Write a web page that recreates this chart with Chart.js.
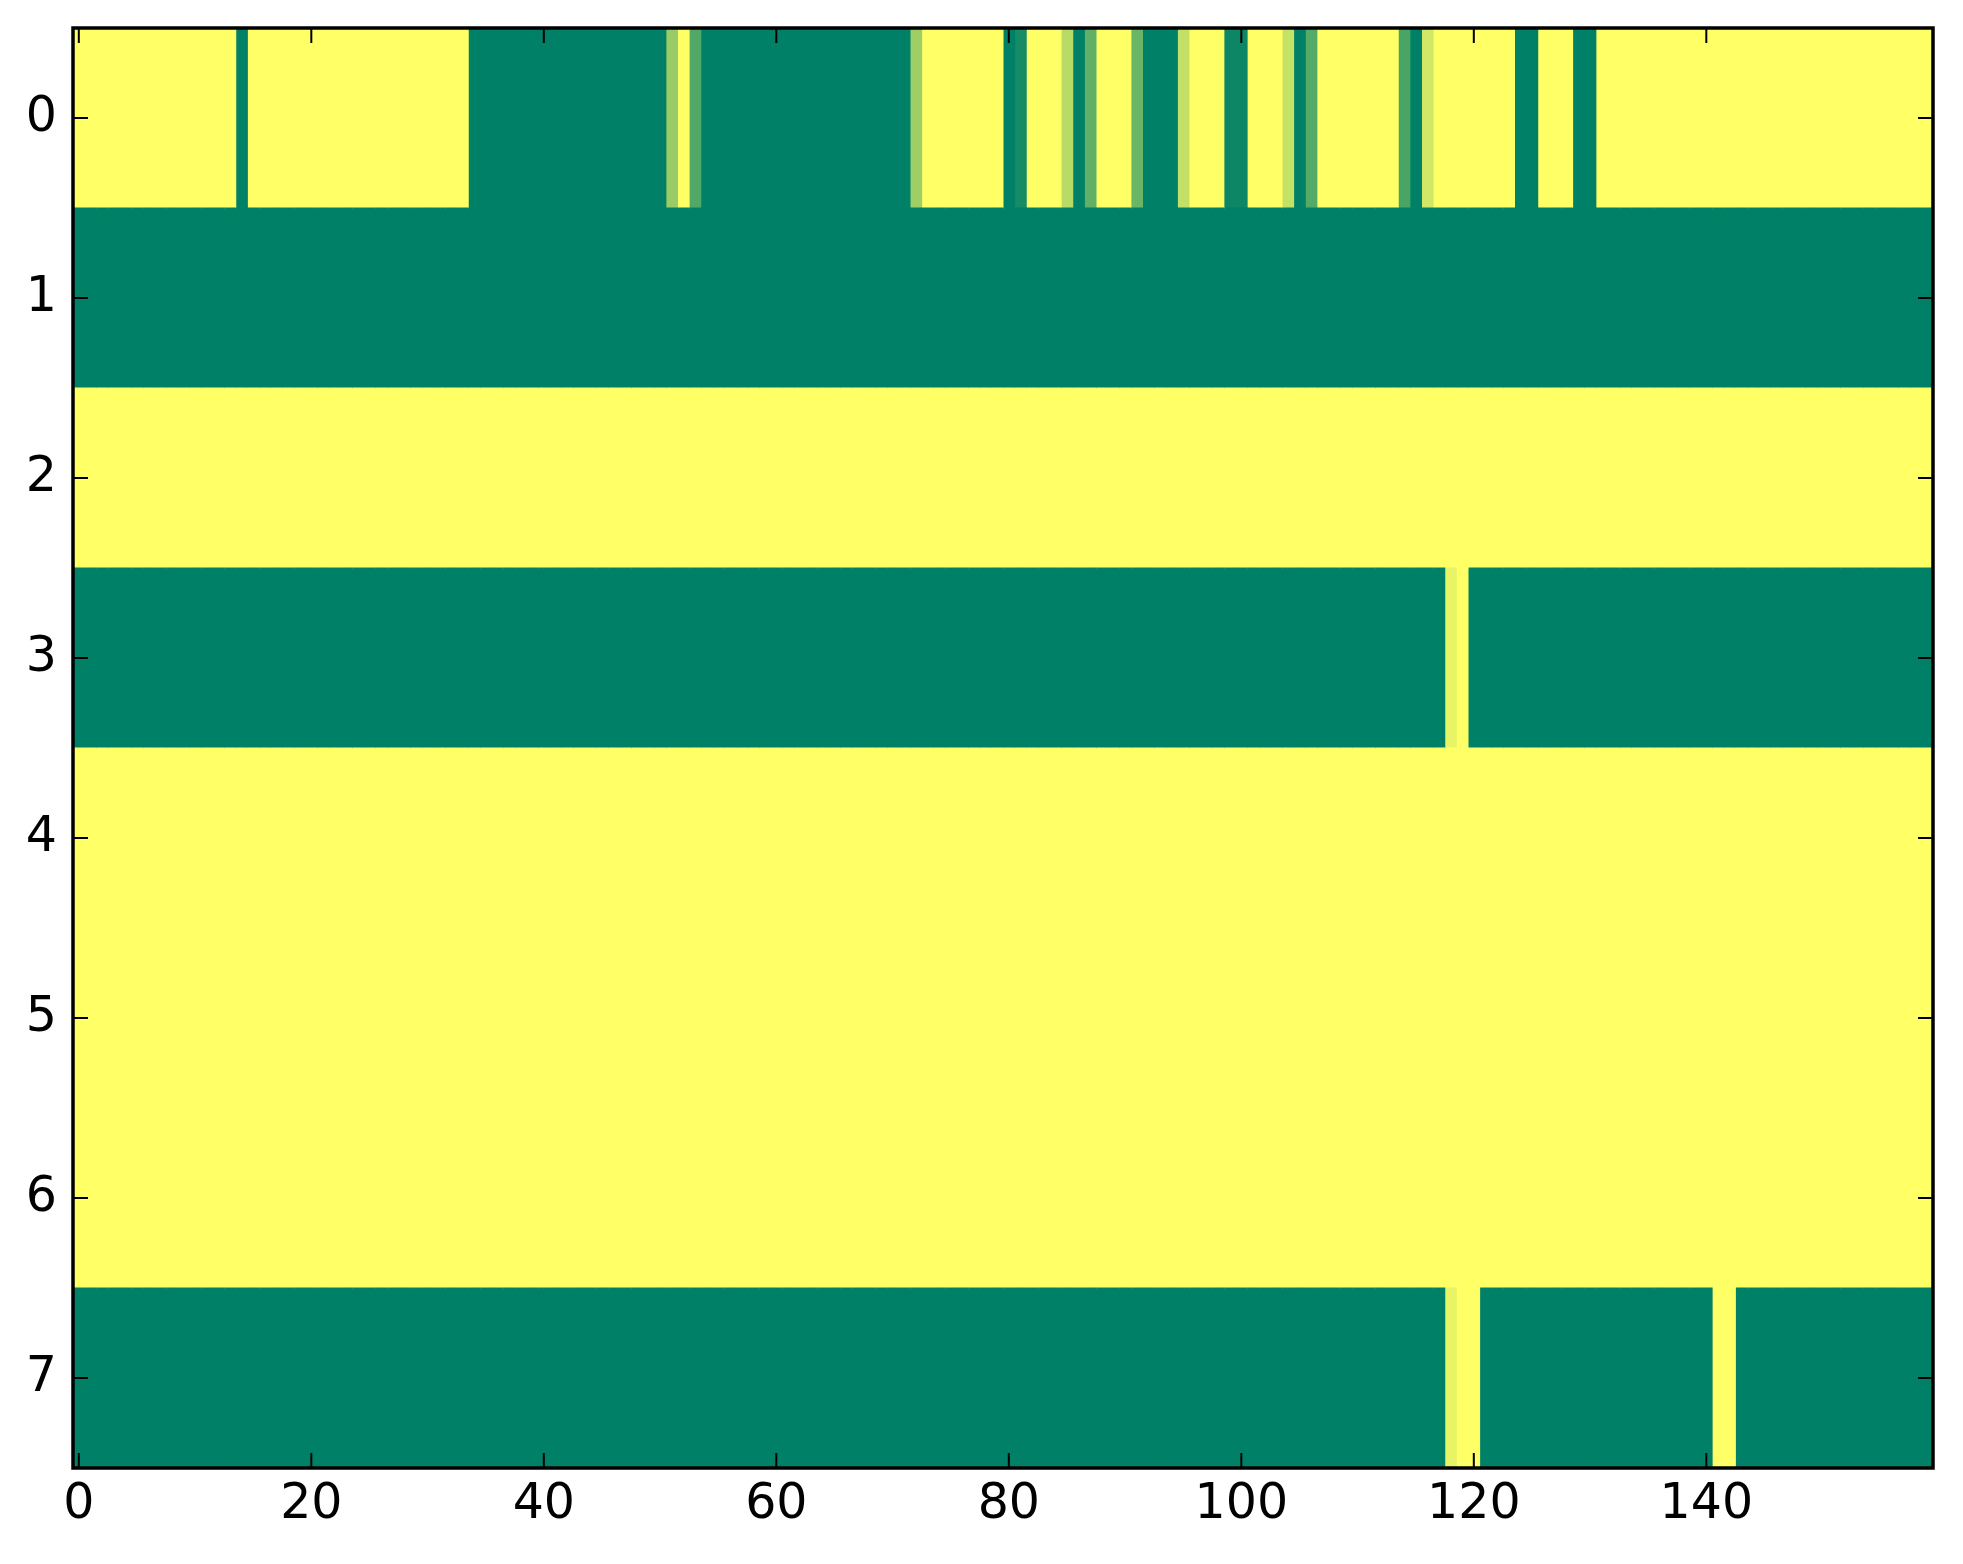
<!DOCTYPE html>
<html>
<head>
<meta charset="utf-8">
<script src="https://cdn.jsdelivr.net/npm/chart.js@4/dist/chart.umd.min.js"></script>
<style>
  html, body { margin: 0; padding: 0; background: #fff; }
  canvas { display: block; }
</style>
</head>
<body>
<canvas id="heat" width="1963" height="1564"></canvas>
<script>
// one value per cell, 0 = green end of the colormap, 1 = yellow end
const row0 = [
    1, 1, 1, 1, 1, 1, 1, 1, 1, 1, 1, 1, 1, 1, 0, 1, 1, 1, 1, 1,
    1, 1, 1, 1, 1, 1, 1, 1, 1, 1, 1, 1, 1, 1, 0, 0, 0, 0, 0, 0,
    0, 0, 0, 0, 0, 0, 0, 0, 0, 0, 0, 0.6, 1, 0.32, 0, 0, 0, 0, 0, 0,
    0, 0, 0, 0, 0, 0, 0, 0, 0, 0, 0, 0, 0.62, 1, 1, 1, 1, 1, 1, 1,
    0, 0.09, 1, 1, 1, 0.72, 0, 0.38, 1, 1, 1, 0.42, 0, 0, 0, 0.76, 1, 1, 1, 0.05,
    0.05, 1, 1, 1, 0.77, 0, 0.33, 1, 1, 1, 1, 1, 1, 1, 0.29, 0, 0.82, 1, 1, 1,
    1, 1, 1, 1, 0, 0, 1, 1, 1, 0, 0, 1, 1, 1, 1, 1, 1, 1, 1, 1,
    1, 1, 1, 1, 1, 1, 1, 1, 1, 1, 1, 1, 1, 1, 1, 1, 1, 1, 1, 1
];
const row1 = [
    0, 0, 0, 0, 0, 0, 0, 0, 0, 0, 0, 0, 0, 0, 0, 0, 0, 0, 0, 0,
    0, 0, 0, 0, 0, 0, 0, 0, 0, 0, 0, 0, 0, 0, 0, 0, 0, 0, 0, 0,
    0, 0, 0, 0, 0, 0, 0, 0, 0, 0, 0, 0, 0, 0, 0, 0, 0, 0, 0, 0,
    0, 0, 0, 0, 0, 0, 0, 0, 0, 0, 0, 0, 0, 0, 0, 0, 0, 0, 0, 0,
    0, 0, 0, 0, 0, 0, 0, 0, 0, 0, 0, 0, 0, 0, 0, 0, 0, 0, 0, 0,
    0, 0, 0, 0, 0, 0, 0, 0, 0, 0, 0, 0, 0, 0, 0, 0, 0, 0, 0, 0,
    0, 0, 0, 0, 0, 0, 0, 0, 0, 0, 0, 0, 0, 0, 0, 0, 0, 0, 0, 0,
    0, 0, 0, 0, 0, 0, 0, 0, 0, 0, 0, 0, 0, 0, 0, 0, 0, 0, 0, 0
];
const row2 = [
    1, 1, 1, 1, 1, 1, 1, 1, 1, 1, 1, 1, 1, 1, 1, 1, 1, 1, 1, 1,
    1, 1, 1, 1, 1, 1, 1, 1, 1, 1, 1, 1, 1, 1, 1, 1, 1, 1, 1, 1,
    1, 1, 1, 1, 1, 1, 1, 1, 1, 1, 1, 1, 1, 1, 1, 1, 1, 1, 1, 1,
    1, 1, 1, 1, 1, 1, 1, 1, 1, 1, 1, 1, 1, 1, 1, 1, 1, 1, 1, 1,
    1, 1, 1, 1, 1, 1, 1, 1, 1, 1, 1, 1, 1, 1, 1, 1, 1, 1, 1, 1,
    1, 1, 1, 1, 1, 1, 1, 1, 1, 1, 1, 1, 1, 1, 1, 1, 1, 1, 1, 1,
    1, 1, 1, 1, 1, 1, 1, 1, 1, 1, 1, 1, 1, 1, 1, 1, 1, 1, 1, 1,
    1, 1, 1, 1, 1, 1, 1, 1, 1, 1, 1, 1, 1, 1, 1, 1, 1, 1, 1, 1
];
const row3 = [
    0, 0, 0, 0, 0, 0, 0, 0, 0, 0, 0, 0, 0, 0, 0, 0, 0, 0, 0, 0,
    0, 0, 0, 0, 0, 0, 0, 0, 0, 0, 0, 0, 0, 0, 0, 0, 0, 0, 0, 0,
    0, 0, 0, 0, 0, 0, 0, 0, 0, 0, 0, 0, 0, 0, 0, 0, 0, 0, 0, 0,
    0, 0, 0, 0, 0, 0, 0, 0, 0, 0, 0, 0, 0, 0, 0, 0, 0, 0, 0, 0,
    0, 0, 0, 0, 0, 0, 0, 0, 0, 0, 0, 0, 0, 0, 0, 0, 0, 0, 0, 0,
    0, 0, 0, 0, 0, 0, 0, 0, 0, 0, 0, 0, 0, 0, 0, 0, 0, 0, 0.91, 1,
    0, 0, 0, 0, 0, 0, 0, 0, 0, 0, 0, 0, 0, 0, 0, 0, 0, 0, 0, 0,
    0, 0, 0, 0, 0, 0, 0, 0, 0, 0, 0, 0, 0, 0, 0, 0, 0, 0, 0, 0
];
const row4 = [
    1, 1, 1, 1, 1, 1, 1, 1, 1, 1, 1, 1, 1, 1, 1, 1, 1, 1, 1, 1,
    1, 1, 1, 1, 1, 1, 1, 1, 1, 1, 1, 1, 1, 1, 1, 1, 1, 1, 1, 1,
    1, 1, 1, 1, 1, 1, 1, 1, 1, 1, 1, 1, 1, 1, 1, 1, 1, 1, 1, 1,
    1, 1, 1, 1, 1, 1, 1, 1, 1, 1, 1, 1, 1, 1, 1, 1, 1, 1, 1, 1,
    1, 1, 1, 1, 1, 1, 1, 1, 1, 1, 1, 1, 1, 1, 1, 1, 1, 1, 1, 1,
    1, 1, 1, 1, 1, 1, 1, 1, 1, 1, 1, 1, 1, 1, 1, 1, 1, 1, 1, 1,
    1, 1, 1, 1, 1, 1, 1, 1, 1, 1, 1, 1, 1, 1, 1, 1, 1, 1, 1, 1,
    1, 1, 1, 1, 1, 1, 1, 1, 1, 1, 1, 1, 1, 1, 1, 1, 1, 1, 1, 1
];
const row5 = [
    1, 1, 1, 1, 1, 1, 1, 1, 1, 1, 1, 1, 1, 1, 1, 1, 1, 1, 1, 1,
    1, 1, 1, 1, 1, 1, 1, 1, 1, 1, 1, 1, 1, 1, 1, 1, 1, 1, 1, 1,
    1, 1, 1, 1, 1, 1, 1, 1, 1, 1, 1, 1, 1, 1, 1, 1, 1, 1, 1, 1,
    1, 1, 1, 1, 1, 1, 1, 1, 1, 1, 1, 1, 1, 1, 1, 1, 1, 1, 1, 1,
    1, 1, 1, 1, 1, 1, 1, 1, 1, 1, 1, 1, 1, 1, 1, 1, 1, 1, 1, 1,
    1, 1, 1, 1, 1, 1, 1, 1, 1, 1, 1, 1, 1, 1, 1, 1, 1, 1, 1, 1,
    1, 1, 1, 1, 1, 1, 1, 1, 1, 1, 1, 1, 1, 1, 1, 1, 1, 1, 1, 1,
    1, 1, 1, 1, 1, 1, 1, 1, 1, 1, 1, 1, 1, 1, 1, 1, 1, 1, 1, 1
];
const row6 = [
    1, 1, 1, 1, 1, 1, 1, 1, 1, 1, 1, 1, 1, 1, 1, 1, 1, 1, 1, 1,
    1, 1, 1, 1, 1, 1, 1, 1, 1, 1, 1, 1, 1, 1, 1, 1, 1, 1, 1, 1,
    1, 1, 1, 1, 1, 1, 1, 1, 1, 1, 1, 1, 1, 1, 1, 1, 1, 1, 1, 1,
    1, 1, 1, 1, 1, 1, 1, 1, 1, 1, 1, 1, 1, 1, 1, 1, 1, 1, 1, 1,
    1, 1, 1, 1, 1, 1, 1, 1, 1, 1, 1, 1, 1, 1, 1, 1, 1, 1, 1, 1,
    1, 1, 1, 1, 1, 1, 1, 1, 1, 1, 1, 1, 1, 1, 1, 1, 1, 1, 1, 1,
    1, 1, 1, 1, 1, 1, 1, 1, 1, 1, 1, 1, 1, 1, 1, 1, 1, 1, 1, 1,
    1, 1, 1, 1, 1, 1, 1, 1, 1, 1, 1, 1, 1, 1, 1, 1, 1, 1, 1, 1
];
const row7 = [
    0, 0, 0, 0, 0, 0, 0, 0, 0, 0, 0, 0, 0, 0, 0, 0, 0, 0, 0, 0,
    0, 0, 0, 0, 0, 0, 0, 0, 0, 0, 0, 0, 0, 0, 0, 0, 0, 0, 0, 0,
    0, 0, 0, 0, 0, 0, 0, 0, 0, 0, 0, 0, 0, 0, 0, 0, 0, 0, 0, 0,
    0, 0, 0, 0, 0, 0, 0, 0, 0, 0, 0, 0, 0, 0, 0, 0, 0, 0, 0, 0,
    0, 0, 0, 0, 0, 0, 0, 0, 0, 0, 0, 0, 0, 0, 0, 0, 0, 0, 0, 0,
    0, 0, 0, 0, 0, 0, 0, 0, 0, 0, 0, 0, 0, 0, 0, 0, 0, 0, 0.91, 1,
    1, 0, 0, 0, 0, 0, 0, 0, 0, 0, 0, 0, 0, 0, 0, 0, 0, 0, 0, 0,
    0, 1, 1, 0, 0, 0, 0, 0, 0, 0, 0, 0, 0, 0, 0, 0, 0, 0, 0, 0
];

const rows = [row0, row1, row2, row3, row4, row5, row6, row7];
const rowLabels = ['0', '1', '2', '3', '4', '5', '6', '7'];
const xTickValues = [0, 20, 40, 60, 80, 100, 120, 140];

// matplotlib "summer": green (0) -> yellow (1)
function summer(v) {
    const r = Math.round(255 * v);
    const g = Math.round(127.5 + 127.5 * v);
    return `rgb(${r}, ${g}, 102)`;
}

// one dataset per column, one floating bar per row
const columns = row0.map((_, c) => c);
const datasets = columns.map(c => ({
    data: rowLabels.map(() => [c - 0.5, c + 0.5]),
    backgroundColor: rows.map(row => summer(row[c])),
    borderWidth: 0,
    borderSkipped: false,
    inflateAmount: 0.5,
    barPercentage: 1.0,
    categoryPercentage: 1.0,
    grouped: false
}));

// inward ticks on all four sides plus the black frame
const framePlugin = {
    id: 'frame',
    afterDatasetsDraw(chart) {
        const { ctx, chartArea: a, scales } = chart;
        const len = 15;
        ctx.save();
        ctx.strokeStyle = '#000';
        ctx.lineWidth = 2;
        ctx.beginPath();
        scales.x.ticks.forEach(t => {
            const px = scales.x.getPixelForValue(t.value);
            ctx.moveTo(px, a.bottom);
            ctx.lineTo(px, a.bottom - len);
            ctx.moveTo(px, a.top);
            ctx.lineTo(px, a.top + len);
        });
        scales.y.ticks.forEach((t, i) => {
            const py = scales.y.getPixelForTick(i);
            ctx.moveTo(a.left, py);
            ctx.lineTo(a.left + len, py);
            ctx.moveTo(a.right, py);
            ctx.lineTo(a.right - len, py);
        });
        ctx.stroke();
        ctx.lineWidth = 3.5;
        ctx.strokeRect(a.left, a.top, a.right - a.left, a.bottom - a.top);
        ctx.restore();
    }
};

const tickFont = { family: 'DejaVu Sans', size: 49 };

new Chart(document.getElementById('heat'), {
    type: 'bar',
    data: { labels: rowLabels, datasets: datasets },
    options: {
        indexAxis: 'y',
        responsive: false,
        devicePixelRatio: 1,
        animation: false,
        events: [],
        layout: { padding: { top: 28, right: 30, left: 0, bottom: 0 } },
        plugins: {
            legend: { display: false },
            tooltip: { enabled: false }
        },
        scales: {
            x: {
                type: 'linear',
                min: -0.5,
                max: 159.5,
                afterBuildTicks: s => { s.ticks = xTickValues.map(v => ({ value: v })); },
                afterFit: s => {
                    s.height = 96;
                    s.paddingLeft = 0;
                    s.paddingRight = 0;
                },
                grid: { display: false, drawTicks: false },
                border: { display: false },
                ticks: { font: tickFont, color: '#000', padding: 8, maxRotation: 0 }
            },
            y: {
                type: 'category',
                offset: true,
                afterFit: s => {
                    s.width = 73;
                    s.paddingTop = 0;
                    s.paddingBottom = 0;
                },
                grid: { display: false, drawTicks: false },
                border: { display: false },
                ticks: { font: tickFont, color: '#000', padding: 16 }
            }
        }
    },
    plugins: [framePlugin]
});
</script>
</body>
</html>
